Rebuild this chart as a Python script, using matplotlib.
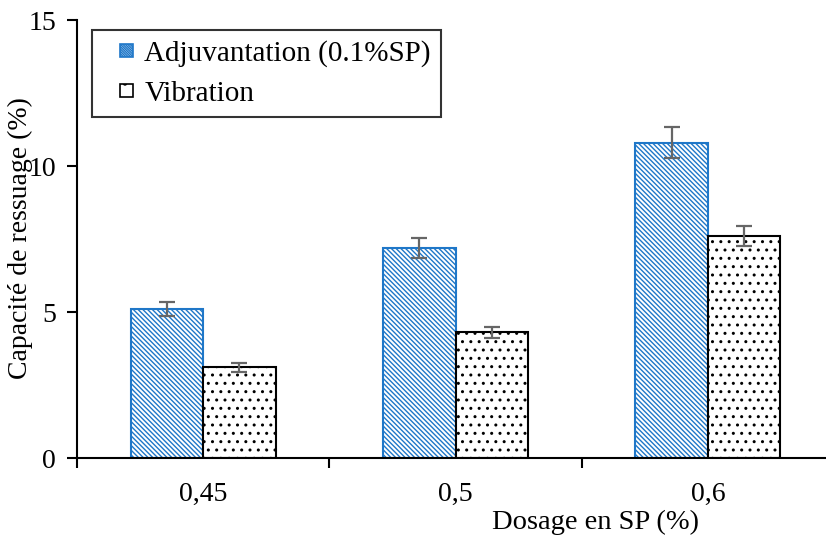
import matplotlib.pyplot as plt
from matplotlib.patches import Rectangle
from matplotlib.container import BarContainer
from matplotlib.legend_handler import HandlerPatch, update_from_first_child
import numpy as np

plt.rcParams['font.family'] = ['Liberation Serif', 'DejaVu Serif']
plt.rcParams['hatch.linewidth'] = 1.0

# dosage categories and measured bleeding capacity (%)
dosage = ['0,45', '0,5', '0,6']
adjuvant = [5.1, 7.2, 10.8]
adjuvant_err = [0.25, 0.35, 0.52]
vibration = [3.1, 4.3, 7.6]
vibration_err = [0.15, 0.2, 0.35]

fig = plt.figure(figsize=(8.26, 5.42), dpi=100)
ax = fig.add_axes([77/826, 84/542, 757/826, 438/542])

x = np.arange(len(dosage))
w = 0.287
blue = '#1f77c8'
ax.bar(x - w/2, adjuvant, w, color='white', edgecolor=blue, hatch='\\' * 7,
       linewidth=1.5, label='Adjuvantation (0.1%SP)')
ax.bar(x + w/2, vibration, w, color='white', edgecolor='black', hatch='..',
       linewidth=1.5, label='Vibration')
ax.errorbar(x - w/2, adjuvant, yerr=adjuvant_err, fmt='none', ecolor='#666666',
            elinewidth=1.6, capsize=6, capthick=1.6)
ax.errorbar(x + w/2, vibration, yerr=vibration_err, fmt='none', ecolor='#666666',
            elinewidth=1.6, capsize=6, capthick=1.6)

ax.set_xlim(-0.5, 2.5)
ax.set_ylim(0, 15)
ax.set_yticks([0, 5, 10, 15])
ax.tick_params(axis='y', direction='out', length=7, width=1.5, labelsize=20, pad=8)
ax.set_xticks(x)
ax.set_xticklabels(dosage)
ax.tick_params(axis='x', which='major', length=0, labelsize=20, pad=17)
ax.set_xticks([-0.5, 0.5, 1.5], minor=True)
ax.tick_params(axis='x', which='minor', direction='out', length=7, width=1.5)

for s in ['top', 'right']:
    ax.spines[s].set_visible(False)
for s in ['left', 'bottom']:
    ax.spines[s].set_linewidth(1.5)


# small square marker sitting at the right end of the handle box
def small_square(legend, orig_handle, xdescent, ydescent, width, height, fontsize):
    s = 0.43 * fontsize
    return Rectangle((width - s - xdescent, (height - s) / 2 - ydescent), s, s)


square_handler = HandlerPatch(patch_func=small_square,
                              update_func=update_from_first_child)
leg = ax.legend(loc='upper left', bbox_to_anchor=(15/757, 1 - 10/438), fontsize=21,
                fancybox=False, edgecolor='black', handlelength=1.05,
                handleheight=0.7, handletextpad=0.4, borderpad=0.35,
                labelspacing=0.45, borderaxespad=0,
                handler_map={BarContainer: square_handler})
leg.get_frame().set_linewidth(1.5)
h_adj, h_vib = leg.legend_handles
h_adj.set_linewidth(1.2)
h_adj.set_hatch('\\' * 14)
h_vib.set_linewidth(1.2)
h_vib.set_hatch('.')

fig.text(20/826, 1 - 238/542, 'Capacité de ressuage (%)', rotation=90,
         ha='center', va='center', fontsize=20)
fig.text(596/826, 1 - 522/542, 'Dosage en SP (%)', ha='center', va='center',
         fontsize=20.5)

fig.savefig('out.png', dpi=100)
